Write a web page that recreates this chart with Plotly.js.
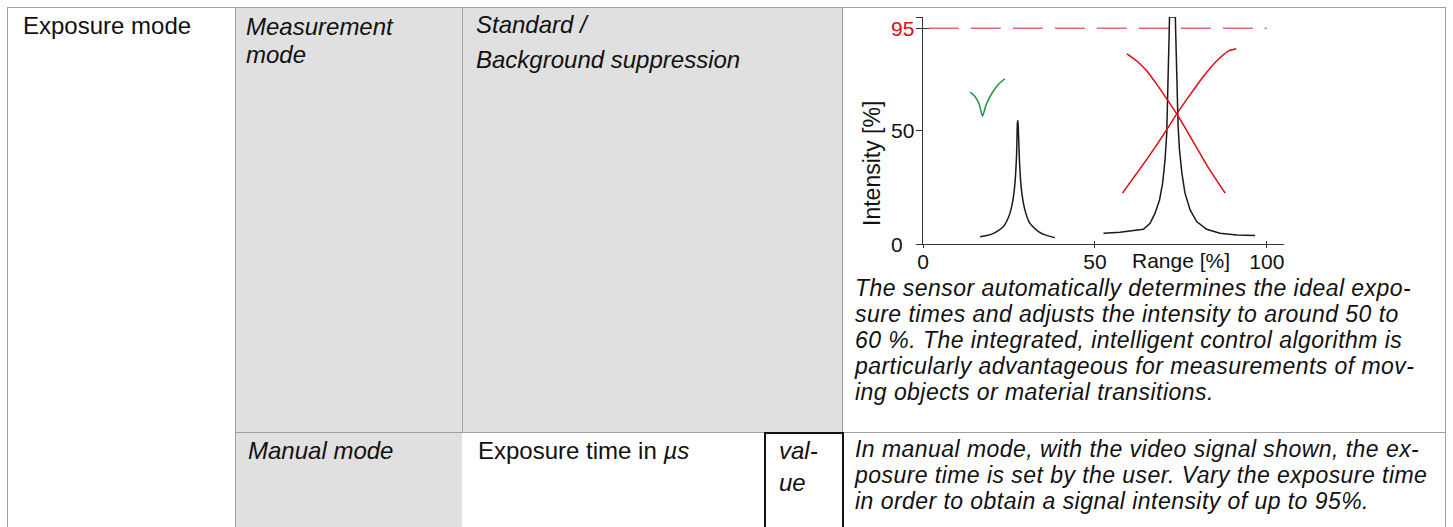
<!DOCTYPE html>
<html>
<head>
<meta charset="utf-8">
<script src="https://cdn.plot.ly/plotly-3.0.1.min.js"></script>
<style>
  html, body { margin:0; padding:0; background:#fff; }
  body { width:1453px; height:527px; overflow:hidden; position:relative;
         font-family:"Liberation Sans", Arial, Helvetica, sans-serif; color:#111; }
  .cell { position:absolute; box-sizing:border-box; }
  .gray { background:#e0e0e0; }
  .hl { position:absolute; height:1px; background:#a0a0a0; }
  .vl { position:absolute; width:1px; background:#a0a0a0; }
  .txt { position:absolute; white-space:nowrap; }
  .it { font-style:italic; }
  #chart { position:absolute; left:843px; top:8px; width:602px; height:272px; }
</style>
</head>
<body>
<!-- cell backgrounds -->
<div class="cell gray" style="left:236px; top:8px; width:607px; height:424px;"></div>
<div class="cell gray" style="left:236px; top:433px; width:226px; height:100px;"></div>
<!-- grid lines -->
<div class="hl" style="left:7px; top:7px; width:1439px;"></div>
<div class="hl" style="left:235px; top:432px; width:1210px;"></div>
<div class="vl" style="left:7px; top:7px; height:530px;"></div>
<div class="vl" style="left:235px; top:7px; height:530px;"></div>
<div class="vl" style="left:462px; top:7px; height:425px;"></div>
<div class="vl" style="left:842px; top:7px; height:530px;"></div>
<div class="vl" style="left:1445px; top:7px; height:530px;"></div>
<!-- value box -->
<div class="cell" style="left:764px; top:432px; width:80px; height:110px; border:2px solid #111; background:#fff;"></div>
<div id="texts"></div>
<div id="chart"></div>
<script>
// ---------- chart data ----------
const peak1X = [16.6, 18.5, 20.5, 21.9, 23.4, 24.3, 25.3, 26.0, 26.5, 26.9, 27.2, 27.35, 27.45, 27.55, 27.65, 27.8, 28.0, 28.3, 28.7, 29.2, 29.9, 30.8, 31.9, 33.6, 35.5, 38.4];
const peak1Y = [3.2, 3.7, 4.7, 5.9, 7.7, 9.9, 13.6, 18.0, 23.1, 29.8, 38.6, 47.4, 53.3, 54.4, 53.3, 47.4, 38.6, 29.8, 23.1, 18.0, 13.6, 9.9, 7.7, 5.5, 4.0, 2.8];

const peak2X = [52.5, 57.3, 64.1, 66.05, 67.5, 68.8, 69.7, 70.4, 70.9, 71.2, 71.4, 71.6, 71.7, 73.4, 73.5, 73.7, 73.9, 74.2, 74.6, 75.3, 76.2, 77.7, 79.6, 82.5, 86.4, 91.3, 96.6];
const peak2Y = [4.7, 5.2, 6.5, 9.1, 13.6, 19.4, 26.8, 37.1, 48.9, 63.6, 78.4, 93.1, 100, 100, 93.1, 78.4, 63.6, 51.9, 41.5, 31.2, 22.4, 15.0, 9.9, 6.5, 4.7, 4.0, 3.7];

const redDownX = [59.3, 62.2, 65.1, 68.0, 70.9, 73.8, 77.7, 82.5, 87.9];
const redDownY = [83.8, 80.6, 76.2, 70.3, 63.9, 57.3, 47.4, 34.9, 22.4];

const redUpX = [58.0, 62.2, 67.0, 70.9, 73.8, 77.7, 81.6, 85.4, 88.8, 91.1];
const redUpY = [22.4, 31.2, 41.5, 50.4, 57.3, 65.8, 73.9, 80.6, 85.0, 86.0];

const checkX = [13.7, 15.0, 16.3, 17.3, 18.4, 20.0, 21.9, 23.8];
const checkY = [66.9, 65.2, 61.8, 56.3, 61.5, 66.3, 70.3, 72.8];

const limitX = [1.7, 100];
const limitY = [95, 95];

const xTickVals = [0, 50, 100];
const xTickLabels = ['0', '50', '100'];
const xCrossTicks = [50, 100];
const yTickVals = [0, 50, 95, 100];
const yTickLabels = ['0', '50', '95', ''];
const yTickColors = ['#111', '#111', '#e30613', '#111'];
const yCrossTicks = [95, 100];

const xTitle = 'Range [%]';
const yTitle = 'Intensity [%]';

// ---------- table text (one block per cell) ----------
const textBlocks = [
  // [lines, left, first baseline, line height, italic, font size, letter spacing]
  [['Exposure mode'], 23, 34, 28, false, 24, 0],
  [['Measurement', 'mode'], 246, 35, 28, true, 24, 0],
  [['Standard /', 'Background suppression'], 476, 33, 35, true, 24, 0],
  [['The sensor automatically determines the ideal expo-',
    'sure times and adjusts the intensity to around 50 to',
    '60 %. The integrated, intelligent control algorithm is',
    'particularly advantageous for measurements of mov-',
    'ing objects or material transitions.'], 855, 296, 26, true, 23, 0.45],
  [['Manual mode'], 248, 459, 28, true, 24, 0],
  [['Exposure time in <i>µs</i>'], 478, 459, 28, false, 24, 0],
  [['val-', 'ue'], 779, 459, 32, true, 24, 0],
  [['In manual mode, with the video signal shown, the ex-',
    'posure time is set by the user. Vary the exposure time',
    'in order to obtain a signal intensity of up to 95%.'], 855, 457, 26, true, 23, 0.45]
];
const holder = document.getElementById('texts');
textBlocks.forEach(function (b) {
  const fs = b[5];
  const d = document.createElement('div');
  d.className = 'txt' + (b[4] ? ' it' : '');
  d.innerHTML = b[0].join('<br>');
  d.style.left = b[1] + 'px';
  d.style.fontSize = fs + 'px';
  d.style.letterSpacing = b[6] + 'px';
  d.style.lineHeight = b[3] + 'px';
  const firstBaselineOffset = (b[3] - 1.117 * fs) / 2 + 0.905 * fs;
  d.style.top = (b[2] - firstBaselineOffset) + 'px';
  holder.appendChild(d);
});

// ---------- plot ----------
const FONT = '"Liberation Sans", Arial, Helvetica, sans-serif';
const blk = '#1a1a1a';
const red = '#e30613';
function line(x, y, color, extra) {
  return Object.assign({
    type: 'scatter', mode: 'lines', x: x, y: y, cliponaxis: false,
    hoverinfo: 'skip', line: { color: color, width: 1.5, shape: 'spline', smoothing: 0.6 }
  }, extra || {});
}
const traces = [
  line(limitX, limitY, '#ec6475', { line: { color: '#ec6475', width: 1.5, dash: '30px,12px' } }),
  line(peak1X, peak1Y, blk, { line: { color: blk, width: 1.5, shape: 'spline', smoothing: 0.4 } }),
  line(peak2X, peak2Y, blk, { line: { color: blk, width: 1.5, shape: 'linear' } }),
  line(redDownX, redDownY, red),
  line(redUpX, redUpY, red),
  line(checkX, checkY, '#1e9644', { line: { color: '#1e9644', width: 1.5, shape: 'spline', smoothing: 0.5 } }),
  { type: 'scatter', x: [], y: [], xaxis: 'x2', yaxis: 'y2', hoverinfo: 'skip' }
];

const annotations = [];
yTickVals.forEach(function (v, i) {
  if (!yTickLabels[i]) return;
  annotations.push({
    xref: 'paper', yref: 'y', x: (889 - 923) / 361, y: v, xanchor: 'left', yanchor: 'middle',
    text: yTickLabels[i], showarrow: false, font: { family: FONT, size: 21, color: yTickColors[i] }
  });
});
annotations.push({
  xref: 'x', yref: 'paper', x: 75.1, y: 0, xanchor: 'center', yanchor: 'top', yshift: -3,
  text: xTitle, showarrow: false, font: { family: FONT, size: 21, color: '#111' }
});
annotations.push({
  xref: 'paper', yref: 'paper', x: (872 - 923) / 361, y: 0.357, xanchor: 'center', yanchor: 'middle',
  text: yTitle, textangle: -90, showarrow: false, font: { family: FONT, size: 23, color: '#111' }
});

const axisCommon = { showgrid: false, zeroline: false, fixedrange: true };
const layout = {
  width: 602, height: 272,
  margin: { l: 80, r: 161, t: 9, b: 36, pad: 0 },
  paper_bgcolor: 'rgba(0,0,0,0)', plot_bgcolor: 'rgba(0,0,0,0)',
  showlegend: false,
  font: { family: FONT, color: '#111' },
  xaxis: Object.assign({}, axisCommon, {
    range: [0, 105], showline: true, linecolor: '#333', linewidth: 1,
    tickmode: 'array', tickvals: xTickVals, ticktext: xTickLabels,
    ticks: 'outside', ticklen: 3, tickcolor: '#333', tickwidth: 1,
    ticklabelstandoff: -4,
    tickfont: { family: FONT, size: 21, color: '#111' }
  }),
  yaxis: Object.assign({}, axisCommon, {
    range: [0, 100], showline: true, linecolor: '#333', linewidth: 1,
    tickmode: 'array', tickvals: yTickVals, ticktext: yTickVals.map(function () { return ''; }),
    showticklabels: false,
    ticks: 'outside', ticklen: 6, tickcolor: '#333', tickwidth: 1
  }),
  xaxis2: Object.assign({}, axisCommon, {
    overlaying: 'x', anchor: 'y', side: 'bottom', range: [0, 105],
    tickmode: 'array', tickvals: xCrossTicks, ticks: 'inside', ticklen: 3,
    tickcolor: '#333', showticklabels: false, showline: false
  }),
  yaxis2: Object.assign({}, axisCommon, {
    overlaying: 'y', anchor: 'x', side: 'left', range: [0, 100],
    tickmode: 'array', tickvals: yCrossTicks, ticks: 'inside', ticklen: 6,
    tickcolor: '#333', showticklabels: false, showline: false
  }),
  annotations: annotations
};
Plotly.newPlot('chart', traces, layout, { staticPlot: true, displayModeBar: false });
</script>
</body>
</html>
